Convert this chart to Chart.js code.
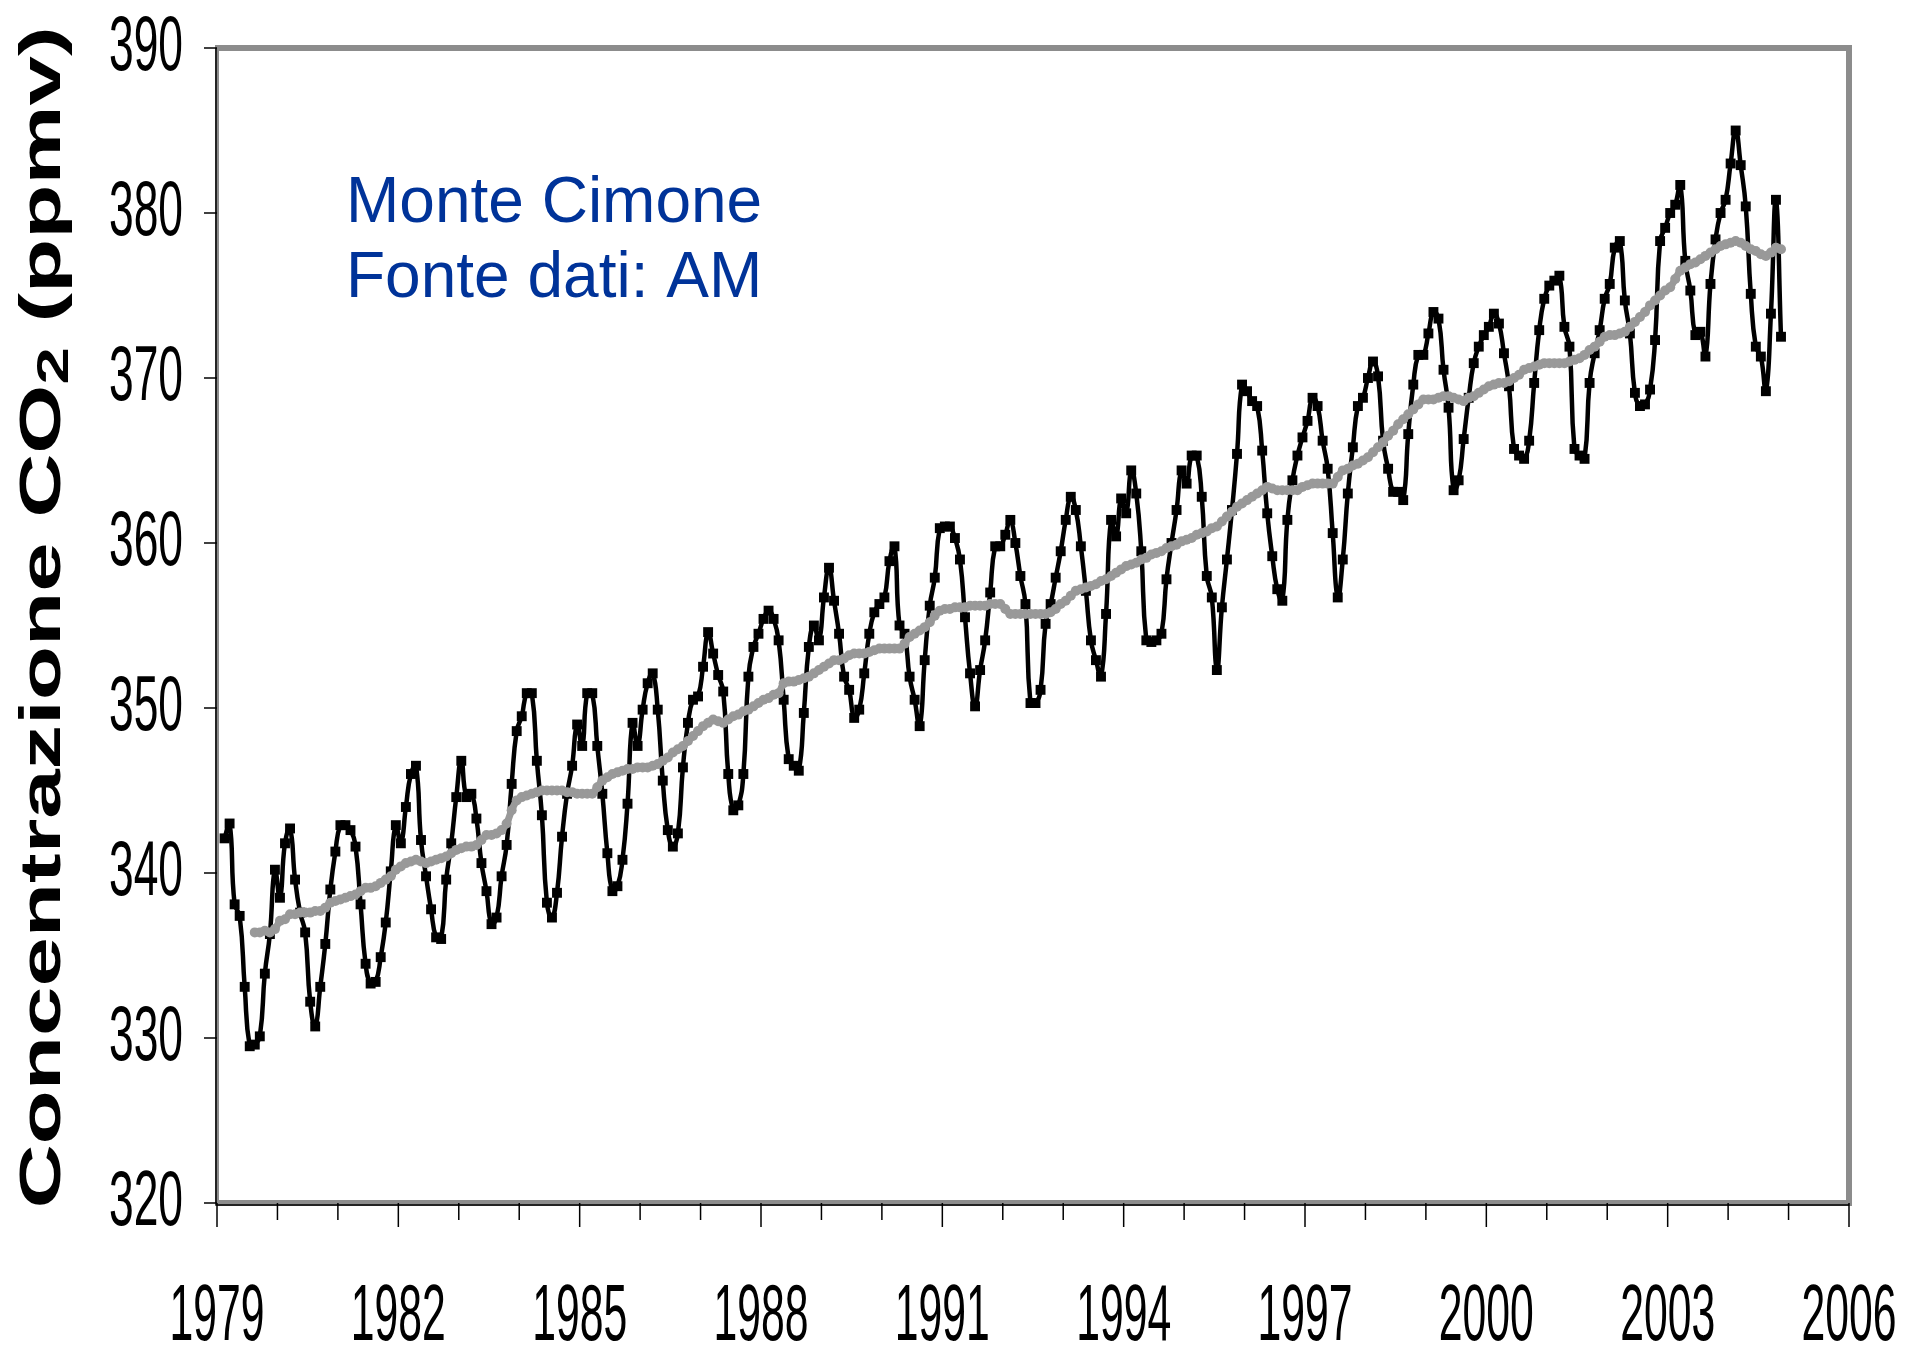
<!DOCTYPE html>
<html lang="it">
<head>
<meta charset="UTF-8">
<title>CO2 Monte Cimone</title>
<script src="https://cdn.jsdelivr.net/npm/chart.js@4.4.0/dist/chart.umd.min.js"></script>
<style>
  html, body { margin: 0; padding: 0; background: #fff; }
  #wrap { width: 1925px; height: 1347px; }
</style>
</head>
<body>
<div id="wrap"><canvas id="co2Chart" width="1925" height="1347"></canvas></div>
<script>
// primo dato mensile: febbraio 1979
const startYear = 1979;
const startMonth = 2;

// concentrazione CO2 mensile (ppmv), una riga per anno
const co2Mensile = [
  342.1, 343.0, 338.1, 337.4, 333.1, 329.5, 329.6, 330.1, 333.9, 336.3, 340.2,        // 1979
  338.5, 341.8, 342.7, 339.6, 337.6, 336.4, 332.2, 330.7, 333.1, 335.7, 339.0, 341.3, // 1980
  342.9, 342.9, 342.6, 341.6, 338.1, 334.5, 333.3, 333.4, 334.9, 337.0, 340.1, 342.9, // 1981
  341.8, 344.0, 346.0, 346.5, 342.0, 339.8, 337.8, 336.1, 336.0, 339.6, 341.8, 344.6, // 1982
  346.8, 344.6, 344.8, 343.3, 340.6, 338.9, 336.9, 337.3, 339.8, 341.7, 345.4, 348.6, // 1983
  349.5, 350.9, 350.9, 346.8, 343.5, 338.2, 337.3, 338.8, 342.2, 344.8, 346.5, 349.0, // 1984
  347.7, 350.9, 350.9, 347.7, 344.8, 341.2, 338.9, 339.2, 340.8, 344.2, 349.1, 347.7, // 1985
  349.9, 351.5, 352.1, 349.9, 345.6, 342.6, 341.6, 342.4, 346.4, 349.1, 350.5, 350.7, // 1986
  352.5, 354.6, 353.3, 352.0, 351.0, 346.0, 343.8, 344.1, 346.0, 351.9, 353.7, 354.5, // 1987
  355.4, 355.9, 355.4, 354.1, 350.5, 346.9, 346.5, 346.2, 349.7, 353.7, 355.0, 354.1, // 1988
  356.7, 358.5, 356.5, 354.5, 351.9, 351.1, 349.4, 349.9, 352.1, 354.5, 355.8, 356.3, // 1989
  356.7, 358.9, 359.8, 355.0, 354.5, 351.9, 350.5, 348.9, 352.9, 356.2, 357.9, 360.9, // 1990
  361.0, 361.0, 360.3, 359.0, 355.5, 352.1, 350.1, 352.3, 354.1, 357.0, 359.8, 359.8, // 1991
  360.5, 361.4, 360.0, 358.0, 356.3, 350.3, 350.3, 351.1, 355.1, 356.3, 357.9, 359.5, // 1992
  361.4, 362.8, 362.0, 359.8, 357.1, 354.1, 352.9, 351.9, 355.7, 361.4, 360.4, 362.7, // 1993
  361.8, 364.4, 363.0, 359.5, 354.1, 354.0, 354.1, 354.5, 357.8, 360.0, 362.0, 364.4, // 1994
  363.6, 365.3, 365.3, 362.8, 358.0, 356.7, 352.3, 356.1, 359.0, 362.0, 365.4, 369.6, // 1995
  369.2, 368.6, 368.3, 365.6, 361.8, 359.2, 357.2, 356.5, 361.4, 363.8, 365.3, 366.4, // 1996
  367.4, 368.8, 368.3, 366.2, 364.5, 360.6, 356.7, 359.0, 363.0, 365.8, 368.3, 368.8, // 1997
  370.0, 371.0, 370.1, 366.2, 364.5, 363.1, 363.1, 362.6, 366.6, 369.6, 371.4, 371.4, // 1998
  372.7, 374.0, 373.6, 370.5, 368.2, 363.2, 363.8, 366.3, 368.8, 370.9, 371.9, 372.6, // 1999
  373.1, 373.9, 373.3, 371.5, 369.5, 365.7, 365.3, 365.1, 366.2, 369.7, 372.9, 374.8, // 2000
  375.6, 375.9, 376.2, 373.1, 371.9, 365.7, 365.3, 365.1, 369.7, 371.5, 372.9, 374.8, // 2001
  375.7, 377.9, 378.3, 374.7, 372.7, 369.1, 368.3, 368.4, 369.3, 372.3, 378.3, 379.1, // 2002
  380.0, 380.5, 381.7, 377.1, 375.3, 372.6, 372.8, 371.3, 375.7, 378.4, 380.0, 380.8, // 2003
  383.0, 385.0, 382.9, 380.4, 375.1, 371.9, 371.3, 369.2, 373.9, 380.8, 372.5         // 2004
];

// media mobile (curva grigia), parte da agosto 1979
const trendStartMonth = 8;
const co2Media = [
  336.4, 336.4, 336.5, 336.4, 336.6,                                                  // 1979
  337.1, 337.2, 337.5, 337.5, 337.6, 337.6, 337.6, 337.7, 337.7, 337.9, 338.2, 338.3, // 1980
  338.4, 338.5, 338.6, 338.7, 338.9, 339.1, 339.1, 339.2, 339.4, 339.6, 339.8, 340.2, // 1981
  340.4, 340.6, 340.7, 340.8, 340.7, 340.6, 340.7, 340.8, 340.9, 341.0, 341.2, 341.4, // 1982
  341.5, 341.6, 341.6, 341.7, 342.0, 342.3, 342.3, 342.4, 342.6, 343.0, 343.8, 344.4, // 1983
  344.6, 344.7, 344.8, 344.9, 345.0, 345.0, 345.0, 345.0, 345.0, 344.9, 344.9, 344.8, // 1984
  344.8, 344.8, 344.8, 345.2, 345.6, 345.8, 346.0, 346.1, 346.2, 346.3, 346.3, 346.4, // 1985
  346.4, 346.4, 346.5, 346.6, 346.8, 347.0, 347.3, 347.5, 347.7, 348.0, 348.3, 348.6, // 1986
  348.9, 349.1, 349.3, 349.2, 349.1, 349.3, 349.5, 349.6, 349.8, 349.9, 350.1, 350.3, // 1987
  350.5, 350.6, 350.8, 350.9, 351.5, 351.6, 351.6, 351.7, 351.8, 351.9, 352.1, 352.3, // 1988
  352.5, 352.7, 352.9, 352.9, 353.0, 353.2, 353.3, 353.3, 353.3, 353.4, 353.5, 353.6, // 1989
  353.6, 353.6, 353.6, 353.6, 353.9, 354.3, 354.5, 354.7, 354.9, 355.2, 355.6, 355.9, // 1990
  356.0, 356.0, 356.1, 356.1, 356.1, 356.2, 356.2, 356.2, 356.2, 356.3, 356.3, 356.3, // 1991
  356.0, 355.7, 355.7, 355.7, 355.7, 355.7, 355.7, 355.7, 355.7, 355.8, 356.0, 356.3, // 1992
  356.5, 356.8, 357.1, 357.2, 357.3, 357.4, 357.5, 357.7, 357.8, 358.0, 358.2, 358.4, // 1993
  358.6, 358.7, 358.8, 359.0, 359.1, 359.3, 359.4, 359.5, 359.7, 359.8, 359.9, 360.1, // 1994
  360.2, 360.3, 360.5, 360.6, 360.7, 360.9, 361.0, 361.3, 361.6, 361.9, 362.2, 362.4, // 1995
  362.6, 362.8, 363.0, 363.2, 363.4, 363.3, 363.2, 363.2, 363.2, 363.2, 363.2, 363.4, // 1996
  363.5, 363.6, 363.6, 363.6, 363.6, 363.6, 364.0, 364.4, 364.5, 364.7, 364.8, 365.0, // 1997
  365.2, 365.5, 365.8, 366.1, 366.5, 366.8, 367.2, 367.5, 367.8, 368.1, 368.4, 368.7, // 1998
  368.7, 368.7, 368.8, 368.9, 368.9, 368.8, 368.7, 368.6, 368.8, 368.9, 369.1, 369.3, // 1999
  369.5, 369.6, 369.7, 369.7, 369.8, 370.0, 370.2, 370.5, 370.6, 370.7, 370.8, 370.9, // 2000
  370.9, 370.9, 370.9, 370.9, 371.0, 371.1, 371.2, 371.4, 371.7, 371.9, 372.2, 372.5, // 2001
  372.6, 372.6, 372.7, 372.8, 373.1, 373.4, 373.7, 374.0, 374.4, 374.7, 375.0, 375.3, // 2002
  375.5, 376.0, 376.5, 376.7, 376.9, 377.0, 377.2, 377.4, 377.6, 377.8, 378.0, 378.1, // 2003
  378.2, 378.3, 378.2, 378.0, 377.8, 377.7, 377.5, 377.4, 377.6, 377.9, 377.8         // 2004
];

// etichette degli assi
const anniEtichetta = [1979, 1982, 1985, 1988, 1991, 1994, 1997, 2000, 2003, 2006];
const valoriY = [320, 330, 340, 350, 360, 370, 380, 390];
const titoloY = ['Concentrazione CO', '2', ' (ppmv)'];
const nota = ['Monte Cimone', 'Fonte dati: AM'];

// ogni dato al centro del suo mese
const puntiMensili = co2Mensile.map((v, i) => ({ x: startYear + (startMonth - 1 + i + 0.5) / 12, y: v }));
const puntiMedia = co2Media.map((v, i) => ({ x: startYear + (trendStartMonth - 1 + i + 0.5) / 12, y: v }));

// testo "stretto" come nel grafico originale
function testoStretto(ctx, text, px, py, align, sx) {
  ctx.save();
  ctx.translate(px, py);
  ctx.scale(sx, 1);
  ctx.textAlign = align;
  ctx.fillText(text, 0, 0);
  ctx.restore();
}

const cornice = {
  id: 'cornice',
  beforeDatasetsDraw(chart) {
    const { ctx, chartArea: a } = chart;
    ctx.save();
    ctx.strokeStyle = '#8c8c8c';
    ctx.lineWidth = 6;
    ctx.beginPath();
    ctx.moveTo(a.left, a.top);
    ctx.lineTo(a.right, a.top);
    ctx.lineTo(a.right, a.bottom);
    ctx.lineTo(a.left, a.bottom);
    ctx.stroke();
    ctx.lineWidth = 4;
    ctx.beginPath();
    ctx.moveTo(a.left, a.top - 3);
    ctx.lineTo(a.left, a.bottom);
    ctx.stroke();
    ctx.strokeStyle = '#000';
    ctx.lineWidth = 1.5;
    ctx.beginPath();
    ctx.moveTo(a.left - 1, a.top);
    ctx.lineTo(a.left - 1, a.bottom + 2);
    ctx.lineTo(a.right, a.bottom + 2);
    ctx.stroke();
    ctx.restore();
  },
  afterDraw(chart) {
    const { ctx, chartArea: a, scales: { x, y } } = chart;
    ctx.save();
    ctx.fillStyle = '#000';
    ctx.strokeStyle = '#000';
    ctx.lineWidth = 1.5;

    // asse y: tacche ed etichette
    ctx.font = '77px "Liberation Sans", Arial, sans-serif';
    valoriY.forEach(v => {
      const py = y.getPixelForValue(v);
      ctx.beginPath();
      ctx.moveTo(a.left - 13, py);
      ctx.lineTo(a.left, py);
      ctx.stroke();
      testoStretto(ctx, String(v), a.left - 34, py + 22, 'right', 0.576);
    });

    // asse x: tacche annuali, etichette ogni 3 anni
    ctx.font = '80px "Liberation Sans", Arial, sans-serif';
    x.ticks.forEach(t => {
      const px = x.getPixelForValue(t.value);
      const lunga = anniEtichetta.includes(t.value);
      ctx.beginPath();
      ctx.moveTo(px, a.bottom);
      ctx.lineTo(px, a.bottom + (lunga ? 24 : 17));
      ctx.stroke();
    });
    anniEtichetta.forEach(anno => {
      testoStretto(ctx, String(anno), x.getPixelForValue(anno), a.bottom + 137, 'center', 0.534);
    });

    // titolo asse y, ruotato
    ctx.save();
    ctx.translate(60, (a.top + a.bottom) / 2 - 8);
    ctx.rotate(-Math.PI / 2);
    const fGrande = 'bold 58px "Liberation Sans", Arial, sans-serif';
    const fPiccolo = 'bold 44px "Liberation Sans", Arial, sans-serif';
    ctx.font = fGrande;
    const w1 = ctx.measureText(titoloY[0]).width;
    const w3 = ctx.measureText(titoloY[2]).width;
    ctx.font = fPiccolo;
    const w2 = ctx.measureText(titoloY[1]).width;
    const tot = w1 + w2 + w3;
    ctx.scale(1182 / tot, 1);
    ctx.textAlign = 'left';
    let cx = -tot / 2;
    ctx.font = fGrande;
    ctx.fillText(titoloY[0], cx, 0);
    cx += w1;
    ctx.font = fPiccolo;
    ctx.fillText(titoloY[1], cx, 8);
    cx += w2;
    ctx.font = fGrande;
    ctx.fillText(titoloY[2], cx, 0);
    ctx.restore();

    // nota in blu
    ctx.fillStyle = '#003399';
    ctx.font = '64px "Liberation Sans", Arial, sans-serif';
    ctx.textAlign = 'left';
    ctx.fillText(nota[0], a.left + 129, a.top + 174);
    ctx.fillText(nota[1], a.left + 129, a.top + 249);
    ctx.restore();
  }
};

new Chart(document.getElementById('co2Chart'), {
  type: 'line',
  data: {
    datasets: [
      {
        label: 'Media',
        data: puntiMedia,
        borderColor: '#999999',
        backgroundColor: '#999999',
        borderWidth: 7,
        pointStyle: 'circle',
        pointRadius: 5,
        pointBorderWidth: 0,
        tension: 0.4
      },
      {
        label: 'CO2 mensile',
        data: puntiMensili,
        borderColor: '#000000',
        backgroundColor: '#000000',
        borderWidth: 4.5,
        pointStyle: 'rect',
        pointRadius: 7,
        pointBorderWidth: 0,
        tension: 0.5
      }
    ]
  },
  options: {
    responsive: false,
    animation: false,
    devicePixelRatio: 1,
    layout: { padding: { top: 48, right: 76, left: 0, bottom: 0 } },
    plugins: { legend: { display: false }, tooltip: { enabled: false } },
    scales: {
      x: {
        type: 'linear', min: 1979, max: 2006,
        ticks: { display: false, stepSize: 1 },
        grid: { display: false },
        border: { display: false },
        afterFit: s => { s.height = 144; }
      },
      y: {
        min: 320, max: 390,
        ticks: { display: false, stepSize: 10 },
        grid: { display: false },
        border: { display: false },
        afterFit: s => { s.width = 217; }
      }
    }
  },
  plugins: [cornice]
});
</script>
</body>
</html>
